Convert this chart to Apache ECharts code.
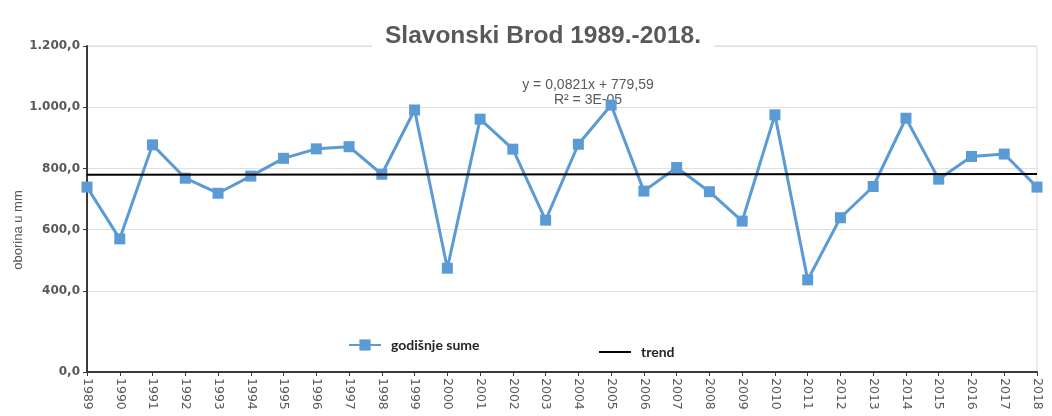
<!DOCTYPE html>
<html>
<head>
<meta charset="utf-8">
<script src="https://cdn.jsdelivr.net/npm/echarts@6/dist/echarts.min.js"></script>
<style>
  html, body { margin: 0; padding: 0; background: #fff; }
  #chart { width: 1052px; height: 416px; }
</style>
</head>
<body>
<div id="chart"></div>
<script>
// godine i godišnje sume oborina (mm), očitano sa slike
var years = ['1989','1990','1991','1992','1993','1994','1995','1996','1997','1998',
             '1999','2000','2001','2002','2003','2004','2005','2006','2007','2008',
             '2009','2010','2011','2012','2013','2014','2015','2016','2017','2018'];
var annualSums = [739, 570, 877, 768, 719, 775, 833, 864, 871, 781,
                  991, 474, 961, 863, 631, 879, 1007, 726, 803, 724,
                  628, 975, 436, 639, 741, 964, 765, 839, 847, 739];
// linearni trend y = 0,0821x + 779,59 (krajnje točke)
var trendEnds = [779.7, 782.2];
// y os je na slici "prekinuta": dno je označeno s 0,0
var yTickValues = [135, 400, 600, 800, 1000, 1200];
var yTickLabels = ['0,0', '400,0', '600,0', '800,0', '1.000,0', '1.200,0'];

var chart = echarts.init(document.getElementById('chart'));
var axisColor = '#3a3a3a';
var textColor = '#595959';

var option = {
  animation: false,
  backgroundColor: '#fff',
  title: {
    text: 'Slavonski Brod 1989.-2018.',
    left: 372,
    top: 20,
    padding: [4, 13],
    backgroundColor: '#fff',
    textStyle: {
      fontFamily: 'Liberation Sans',
      fontWeight: 'bold',
      fontSize: 24.5,
      color: textColor
    }
  },
  legend: [
    {
      data: ['godišnje sume'],
      left: 348, top: 338, padding: 0,
      itemWidth: 32, itemHeight: 14,
      textStyle: { fontFamily: 'Lato', fontWeight: 'bold', fontSize: 14, color: '#262626', padding: [0, 0, 0, 5] }
    },
    {
      data: [{ name: 'trend', icon: 'rect' }],
      left: 599, top: 345, padding: 0,
      itemWidth: 32, itemHeight: 2,
      textStyle: { fontFamily: 'Lato', fontWeight: 'bold', fontSize: 14, color: '#262626', padding: [0, 0, 0, 5] }
    }
  ],
  grid: {
    left: 87, right: 15, top: 46, bottom: 44,
    show: true,
    borderColor: '#d9d9d9',
    borderWidth: 1
  },
  xAxis: {
    type: 'category',
    data: years,
    boundaryGap: false,
    axisLine: { lineStyle: { color: axisColor, width: 2 } },
    axisTick: { interval: 0, length: 4, lineStyle: { color: axisColor } },
    axisLabel: {
      interval: 0,
      rotate: -90,
      margin: 6,
      fontFamily: 'DejaVu Sans',
      fontSize: 12.5,
      color: textColor
    },
    splitLine: { show: false }
  },
  yAxis: {
    type: 'value',
    min: 135,
    max: 1200,
    axisLine: { show: true, lineStyle: { color: axisColor, width: 2 } },
    axisTick: { show: true, length: 4, customValues: yTickValues, lineStyle: { color: axisColor } },
    axisLabel: {
      customValues: yTickValues,
      margin: 7,
      fontFamily: 'DejaVu Sans',
      fontWeight: 'bold',
      fontSize: 12,
      color: textColor,
      formatter: function (v) {
        var i = yTickValues.indexOf(v);
        return i >= 0 ? yTickLabels[i] : '';
      }
    },
    splitLine: { show: true, lineStyle: { color: '#e0e0e0', width: 1 } }
  },
  graphic: [
    {
      type: 'text',
      x: 18, y: 230,
      rotation: Math.PI / 2,
      style: {
        text: 'oborina u mm',
        fontFamily: 'Liberation Sans',
        fontSize: 13,
        fill: textColor,
        align: 'center',
        verticalAlign: 'middle'
      }
    },
    {
      type: 'text',
      x: 588, y: 78,
      style: {
        text: 'y = 0,0821x + 779,59\nR² = 3E-05',
        fontFamily: 'Liberation Sans',
        fontSize: 14,
        lineHeight: 15,
        fill: textColor,
        align: 'center',
        verticalAlign: 'top'
      }
    }
  ],
  series: [
    {
      name: 'godišnje sume',
      type: 'line',
      data: annualSums,
      symbol: 'rect',
      symbolSize: 11,
      color: '#5b9bd5',
      lineStyle: { color: '#5b9bd5', width: 3 },
      itemStyle: { color: '#5b9bd5' },
      z: 2
    },
    {
      name: 'trend',
      type: 'line',
      data: [[0, trendEnds[0]], [years.length - 1, trendEnds[1]]],
      symbol: 'none',
      color: '#000',
      lineStyle: { color: '#000', width: 2 },
      z: 3
    }
  ]
};
chart.setOption(option);
</script>
</body>
</html>
